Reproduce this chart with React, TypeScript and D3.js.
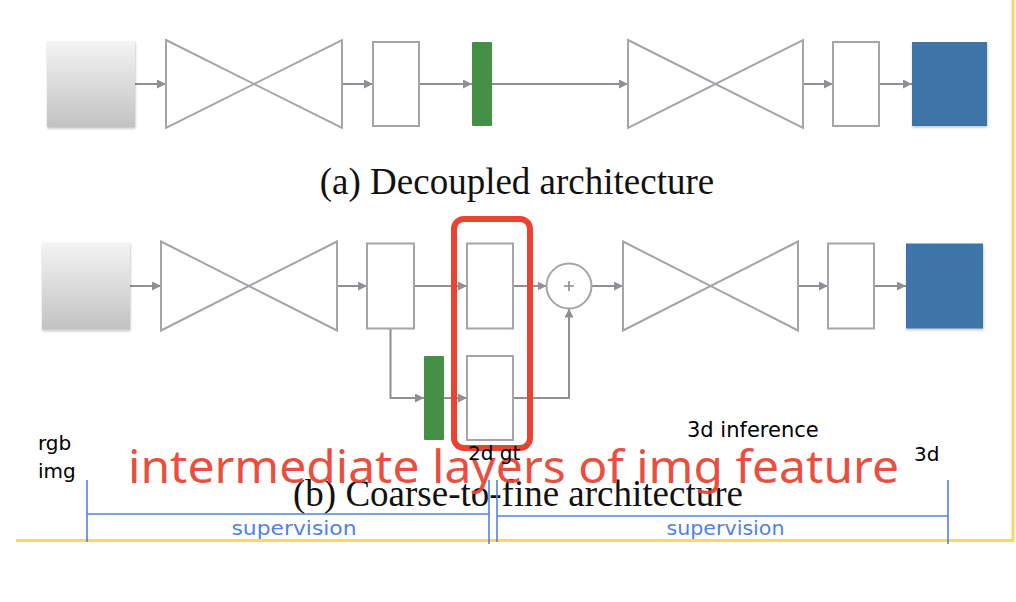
import { useEffect, useRef } from 'react'
import * as d3 from 'd3'

// what the diagram says
const captions = ['(a) Decoupled architecture', '(b) Coarse-to-fine architecture']
const highlightLabel = 'intermediate layers of img feature'
const handNotes = ['rgb', 'img', '2d gt', '3d inference', '3d']
const spanNotes = ['supervision', 'supervision']

// block kinds, left to right
type Kind = 'input' | 'hourglass' | 'feat' | 'heat' | 'output' | 'sum'
const rowA: Kind[] = ['input', 'hourglass', 'feat', 'heat', 'hourglass', 'feat', 'output']
const rowB: Kind[] = ['input', 'hourglass', 'feat', 'feat', 'sum', 'hourglass', 'feat', 'output']

// layout (pixels), kept apart from the content above
const W = 1016, H = 602
const GRAY = '#a4a4a9', ARROW = '#8f8f94'
const RED = '#ea4332', BLUE = '#4f82e4', YELLOW = '#f8d862'
const rowABoxes = [[47, 135], [166, 342], [373, 419], [472, 492], [628, 803], [833, 879], [912, 987]]
const rowBBoxes = [[42, 130], [161, 337], [367, 414], [467, 513], [546.5, 591.5], [623, 798], [828, 874], [906, 983]]

export default function App() {
  const ref = useRef<SVGSVGElement>(null)

  useEffect(() => {
    const svg = d3.select(ref.current!)
    svg.selectAll('*').remove()
    svg.attr('width', W).attr('height', H)

    const defs = svg.append('defs')
    const grad = defs.append('linearGradient').attr('id', 'inGrad').attr('x1', 0).attr('x2', 0).attr('y1', 0).attr('y2', 1)
    grad.append('stop').attr('offset', '0%').attr('stop-color', '#f4f4f4')
    grad.append('stop').attr('offset', '100%').attr('stop-color', '#c2c2c2')
    const sh = defs.append('filter').attr('id', 'shadow').attr('x', '-10%').attr('y', '-10%').attr('width', '130%').attr('height', '130%')
    sh.append('feDropShadow').attr('dx', 0.5).attr('dy', 1.5).attr('stdDeviation', 1.2).attr('flood-color', '#000').attr('flood-opacity', 0.25)
    defs.append('marker').attr('id', 'arr').attr('viewBox', '0 0 10 10').attr('refX', 10).attr('refY', 5)
      .attr('markerWidth', 9).attr('markerHeight', 9).attr('markerUnits', 'userSpaceOnUse').attr('orient', 'auto')
      .append('path').attr('d', 'M0,0 L10,5 L0,10 Z').attr('fill', ARROW)

    svg.append('rect').attr('width', W).attr('height', H).attr('fill', '#fff')

    const line = d3.line<[number, number]>()
    const arrow = (pts: [number, number][], head = true) => {
      const p = svg.append('path').attr('d', line(pts)).attr('fill', 'none').attr('stroke', ARROW).attr('stroke-width', 2)
      if (head) p.attr('marker-end', 'url(#arr)')
    }

    const drawBlock = (kind: Kind, x0: number, x1: number, cy: number, h: number) => {
      const y0 = cy - h / 2, y1 = cy + h / 2
      if (kind === 'input') {
        svg.append('rect').attr('x', x0).attr('y', y0).attr('width', x1 - x0).attr('height', h)
          .attr('fill', 'url(#inGrad)').attr('filter', 'url(#shadow)')
      } else if (kind === 'output') {
        svg.append('rect').attr('x', x0).attr('y', y0 + 1).attr('width', x1 - x0).attr('height', h - 2)
          .attr('fill', '#3d74a8').attr('filter', 'url(#shadow)')
      } else if (kind === 'heat') {
        svg.append('rect').attr('x', x0).attr('y', y0 + 1).attr('width', x1 - x0).attr('height', h - 2)
          .attr('fill', '#449145').attr('rx', 1)
      } else if (kind === 'feat') {
        svg.append('rect').attr('x', x0).attr('y', y0 + 1).attr('width', x1 - x0).attr('height', h - 2)
          .attr('fill', '#fff').attr('stroke', GRAY).attr('stroke-width', 2)
      } else if (kind === 'hourglass') {
        const yy0 = y0 - 1, yy1 = y1 + 1
        svg.append('path').attr('d', line([[x0, yy0], [x1, yy1], [x1, yy0], [x0, yy1]]) + 'Z')
          .attr('fill', '#fff').attr('stroke', GRAY).attr('stroke-width', 2).attr('stroke-linejoin', 'miter')
      } else if (kind === 'sum') {
        const cx = (x0 + x1) / 2, r = (x1 - x0) / 2
        svg.append('circle').attr('cx', cx).attr('cy', cy).attr('r', r).attr('fill', '#fff').attr('stroke', GRAY).attr('stroke-width', 2)
        svg.append('path').attr('d', `M${cx - 5},${cy}H${cx + 5}M${cx},${cy - 5}V${cy + 5}`).attr('stroke', '#8a8a8f').attr('stroke-width', 1.6)
      }
    }

    // row (a)
    const cyA = 84, hA = 86
    rowA.forEach((k, i) => {
      if (i > 0) arrow([[rowABoxes[i - 1][1], cyA], [rowABoxes[i][0], cyA]])
    })
    rowA.forEach((k, i) => drawBlock(k, rowABoxes[i][0], rowABoxes[i][1], cyA, hA))

    // row (b): main path, then the heat-map branch
    const cyB = 286, hB = 87, cyB2 = 398
    rowB.forEach((k, i) => {
      if (i > 0) arrow([[rowBBoxes[i - 1][1], cyB], [rowBBoxes[i][0], cyB]])
    })
    const bx = (rowBBoxes[2][0] + rowBBoxes[2][1]) / 2
    const sumX = (rowBBoxes[4][0] + rowBBoxes[4][1]) / 2
    const heat: [number, number] = [424, 444]
    arrow([[bx, cyB + hB / 2 - 1], [bx, cyB2], [heat[0], cyB2]])
    arrow([[heat[1], cyB2], [rowBBoxes[3][0], cyB2]])
    arrow([[rowBBoxes[3][1], cyB2], [sumX, cyB2], [sumX, cyB + 22.5]])
    rowB.forEach((k, i) => drawBlock(k, rowBBoxes[i][0], rowBBoxes[i][1], cyB, hB))
    drawBlock('heat', heat[0], heat[1], cyB2, 86)
    drawBlock('feat', rowBBoxes[3][0], rowBBoxes[3][1], cyB2, 86)

    // captions
    const serif = '"Liberation Serif", "Times New Roman", serif'
    svg.append('text').attr('x', 517).attr('y', 194).attr('text-anchor', 'middle').attr('font-family', serif)
      .attr('font-size', 37).attr('fill', '#111').text(captions[0])

    // yellow frame
    svg.append('path').attr('d', line([[16, 540.5], [1013, 540.5], [1013, 0]])).attr('fill', 'none')
      .attr('stroke', YELLOW).attr('stroke-width', 3)

    svg.append('text').attr('x', 518).attr('y', 506).attr('text-anchor', 'middle').attr('font-family', serif)
      .attr('font-size', 37).attr('fill', '#111').text(captions[1])

    // red highlight
    svg.append('rect').attr('x', 454).attr('y', 219).attr('width', 76).attr('height', 229).attr('rx', 10)
      .attr('fill', 'none').attr('stroke', RED).attr('stroke-width', 6)
    svg.append('text').attr('x', 128).attr('y', 483).attr('font-family', '"Noto Sans", sans-serif')
      .attr('font-size', 46).attr('fill', RED).attr('fill-opacity', 0.95)
      .attr('textLength', 771).attr('lengthAdjust', 'spacingAndGlyphs').text(highlightLabel)

    // blue supervision spans
    const spans: [number, number, number][] = [[87, 489, 514], [497, 948, 516]]
    spans.forEach(([a, b, y], i) => {
      svg.append('path').attr('d', `M${a},${y}H${b}M${a},480V542M${b},480V544`)
        .attr('stroke', BLUE).attr('stroke-width', 1.6).attr('fill', 'none')
      svg.append('text').attr('x', (a + b) / 2 + (i === 0 ? 6 : 3)).attr('y', 535).attr('text-anchor', 'middle')
        .attr('font-family', '"DejaVu Sans", sans-serif').attr('font-size', 19)
        .attr('textLength', i === 0 ? 125 : 118).attr('lengthAdjust', 'spacingAndGlyphs')
        .attr('fill', BLUE).text(spanNotes[i])
    })

    // handwritten notes
    const notePos = [[38, 450], [38, 478], [468, 460], [687, 437], [914, 461]]
    handNotes.forEach((t, i) => {
      svg.append('text').attr('x', notePos[i][0]).attr('y', notePos[i][1])
        .attr('font-family', '"DejaVu Sans", sans-serif').attr('font-size', i === 3 ? 21 : 20)
        .attr('fill', '#000').text(t)
    })
  }, [])

  return <svg ref={ref} style={{ position: 'absolute', left: 0, top: 0, display: 'block' }} />
}
